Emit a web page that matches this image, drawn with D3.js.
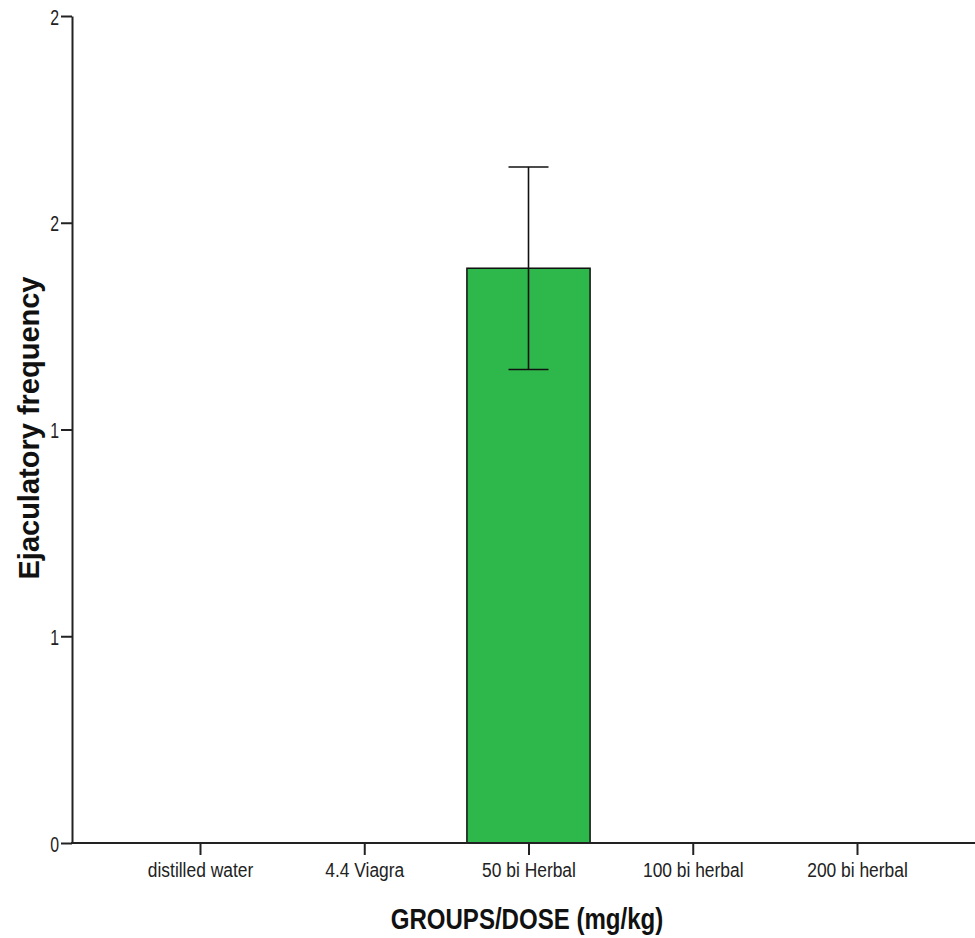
<!DOCTYPE html>
<html>
<head>
<meta charset="utf-8">
<script src="https://cdn.jsdelivr.net/npm/d3@7"></script>
<style>
  body { margin: 0; background: #fff; }
  text { font-family: "Liberation Sans", Arial, sans-serif; fill: #222; }
</style>
</head>
<body>
<div id="chart"></div>
<script>
// groups and mean ejaculatory frequency (only one group has a visible bar)
const groups = ["distilled water", "4.4 Viagra", "50 bi Herbal", "100 bi herbal", "200 bi herbal"];
const means = [0, 0, 1.39, 0, 0];
const errors = [0, 0, 0.245, 0, 0];
const shown = [false, false, true, false, false];

// y ticks (SPSS rounded labels)
const yTickValues = [0, 0.5, 1, 1.5, 2];
const yTickLabels = ["0", "1", "1", "2", "2"];

const width = 975, height = 938;

const svg = d3.select("#chart").append("svg")
    .attr("width", width)
    .attr("height", height);

// scales
const x = d3.scalePoint()
    .domain(groups)
    .range([200, 857]);

const y = d3.scaleLinear()
    .domain([0, 2])
    .range([843, 16]);

const data = groups.map((g, i) => ({group: g, mean: means[i], err: errors[i], shown: shown[i]}));

// bars
const barW = x.step() * 0.75;

svg.selectAll(".bar")
    .data(data.filter(d => d.shown))
    .enter().append("rect")
    .attr("class", "bar")
    .attr("x", d => x(d.group) - barW / 2)
    .attr("y", d => y(d.mean))
    .attr("width", barW)
    .attr("height", d => y(0) - y(d.mean))
    .attr("fill", "#2eb84b")
    .attr("stroke", "#111")
    .attr("stroke-width", 1.5);

// error bars
const capW = 40;
const eb = svg.selectAll(".err")
    .data(data.filter(d => d.shown))
    .enter().append("g")
    .attr("class", "err")
    .attr("stroke", "#111")
    .attr("stroke-width", 1.6);

eb.append("line")
    .attr("x1", d => x(d.group)).attr("x2", d => x(d.group))
    .attr("y1", d => y(d.mean + d.err)).attr("y2", d => y(d.mean - d.err));
eb.append("line")
    .attr("x1", d => x(d.group) - capW / 2).attr("x2", d => x(d.group) + capW / 2)
    .attr("y1", d => y(d.mean + d.err)).attr("y2", d => y(d.mean + d.err));
eb.append("line")
    .attr("x1", d => x(d.group) - capW / 2).attr("x2", d => x(d.group) + capW / 2)
    .attr("y1", d => y(d.mean - d.err)).attr("y2", d => y(d.mean - d.err));

// y axis
const yAxis = d3.axisLeft(y)
    .tickValues(yTickValues)
    .tickFormat((d, i) => yTickLabels[i])
    .tickSize(11)
    .tickSizeOuter(0);

const gy = svg.append("g")
    .attr("transform", "translate(72,0)")
    .call(yAxis);

gy.select(".domain").attr("stroke", "#222").attr("stroke-width", 2);
gy.selectAll(".tick line").attr("stroke", "#222").attr("stroke-width", 2);
gy.selectAll(".tick text")
    .attr("x", 0).attr("y", 0).attr("dy", null)
    .attr("transform", "translate(-13,8) scale(0.72,1)")
    .style("font-size", "22px")
    .style("fill", "#222");

// x axis
const xAxis = d3.axisBottom(x)
    .tickSize(12)
    .tickSizeOuter(0);

const gx = svg.append("g")
    .attr("transform", `translate(0,${y(0)})`)
    .call(xAxis);

gx.select(".domain").remove();
gx.append("line")
    .attr("x1", 71).attr("x2", width)
    .attr("y1", 0).attr("y2", 0)
    .attr("stroke", "#222")
    .attr("stroke-width", 2);
gx.selectAll(".tick line").attr("stroke", "#222").attr("stroke-width", 2);
gx.selectAll(".tick text")
    .attr("y", 0).attr("dy", null)
    .attr("transform", "translate(0,34) scale(0.87,1)")
    .style("font-size", "20px")
    .style("fill", "#222");

// axis titles
svg.append("text")
    .attr("transform", "translate(39,428) rotate(-90)")
    .attr("text-anchor", "middle")
    .style("font-size", "29px")
    .style("font-weight", "bold")
    .style("fill", "#111")
    .text("Ejaculatory frequency");

svg.append("text")
    .attr("transform", "translate(527,929) scale(0.83,1)")
    .attr("text-anchor", "middle")
    .style("font-size", "29px")
    .style("font-weight", "bold")
    .style("fill", "#111")
    .text("GROUPS/DOSE (mg/kg)");
</script>
</body>
</html>
